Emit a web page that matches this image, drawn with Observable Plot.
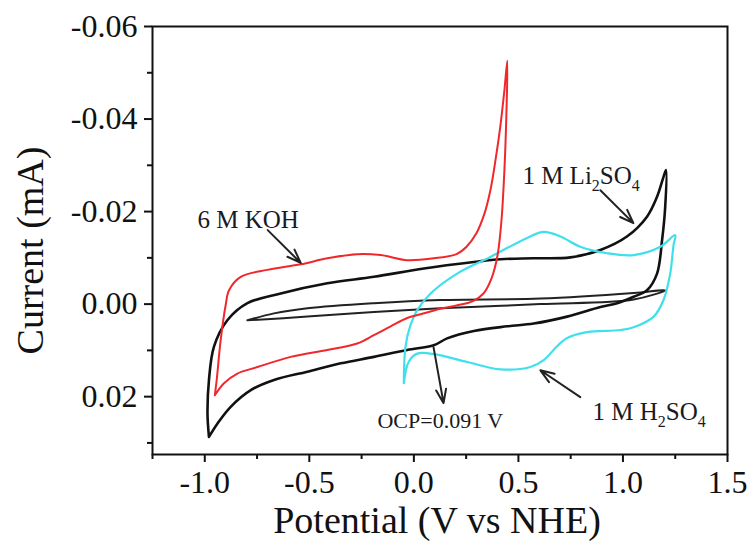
<!DOCTYPE html>
<html><head><meta charset="utf-8">
<script src="https://cdn.jsdelivr.net/npm/d3@7"></script>
<script src="https://cdn.jsdelivr.net/npm/@observablehq/plot@0.6"></script>
<style>
body{margin:0;background:#fff}
svg{font-family:"Liberation Serif",serif}
</style>
</head><body><div id="chart"></div>
<script>
// 6 M KOH (red)
const kohV = [-0.952,-0.943,-0.924,-0.900,-0.884,-0.828,-0.701,-0.541,-0.414,-0.271,-0.159,-0.032,0.095,0.204,0.252,0.299,0.338,0.366,0.390,0.414,0.433,0.447,0.443,0.433,0.419,0.400,0.371,0.333,0.280,0.204,0.127,0.032,-0.032,-0.111,-0.191,-0.271,-0.414,-0.589,-0.748,-0.844,-0.908,-0.952];
const kohI = [0.0197,0.0164,0.0078,0.0002,-0.0030,-0.0059,-0.0074,-0.0086,-0.0099,-0.0108,-0.0106,-0.0095,-0.0099,-0.0108,-0.0124,-0.0153,-0.0196,-0.0246,-0.0310,-0.0386,-0.0462,-0.0526,-0.0418,-0.0289,-0.0181,-0.0105,-0.0055,-0.0023,-0.0006,0.0003,0.0010,0.0022,0.0030,0.0048,0.0067,0.0085,0.0099,0.0114,0.0136,0.0150,0.0171,0.0197];
// 1 M Li2SO4 (black, outer loop)
const liV = [-0.980,-0.987,-0.980,-0.956,-0.892,-0.796,-0.637,-0.414,-0.191,0.048,0.287,0.414,0.573,0.749,0.892,1.019,1.115,1.163,1.194,1.206,1.202,1.187,1.163,1.115,1.051,0.972,0.892,0.733,0.573,0.446,0.287,0.159,0.095,-0.032,-0.191,-0.350,-0.509,-0.669,-0.780,-0.876,-0.939,-0.980];
const liI = [0.0287,0.0236,0.0164,0.0092,0.0035,-0.0002,-0.0023,-0.0045,-0.0059,-0.0077,-0.0091,-0.0097,-0.0099,-0.0101,-0.0117,-0.0146,-0.0189,-0.0232,-0.0275,-0.0290,-0.0210,-0.0138,-0.0066,-0.0030,-0.0016,-0.0002,0.0006,0.0027,0.0042,0.0048,0.0058,0.0074,0.0089,0.0099,0.0114,0.0128,0.0146,0.0164,0.0186,0.0222,0.0258,0.0287];
// narrow black loop
const thinV = [-0.796,-0.669,-0.509,-0.191,0.127,0.605,1.051,1.202,1.051,0.605,0.127,-0.191,-0.509,-0.796];
const thinI = [0.0035,0.0020,0.0009,-0.0002,-0.0009,-0.0012,-0.0024,-0.0030,-0.0010,0.0000,0.0009,0.0017,0.0027,0.0035];
// 1 M H2SO4 (cyan)
const h2V = [-0.048,-0.040,-0.016,0.016,0.080,0.207,0.366,0.542,0.621,0.701,0.796,0.924,1.051,1.179,1.250,1.242,1.226,1.194,1.147,1.051,0.988,0.821,0.730,0.685,0.621,0.557,0.414,0.255,0.095,0.016,-0.025,-0.048];
const h2I = [0.0171,0.0092,0.0045,0.0013,-0.0023,-0.0066,-0.0102,-0.0143,-0.0156,-0.0146,-0.0124,-0.0110,-0.0106,-0.0124,-0.0149,-0.0128,-0.0066,-0.0009,0.0027,0.0050,0.0056,0.0061,0.0074,0.0091,0.0121,0.0136,0.0141,0.0125,0.0108,0.0107,0.0125,0.0171];

// tick values
const xMajor = [-1.0,-0.5,0.0,0.5,1.0,1.5];
const xMinor = [-1.25,-0.75,-0.25,0.25,0.75,1.25];
const yMajor = [-0.06,-0.04,-0.02,0.00,0.02];
const yMinor = [-0.05,-0.03,-0.01,0.01,0.03];

// annotations
const annText = ["6 M KOH","1 M Li2SO4","1 M H2SO4"];
const annV = [-1.035,0.519,0.854];
const annI = [-0.0181,-0.0276,0.0234];
const ocpText = ["OCP=0.091 V"];
const ocpV = [-0.174];
const ocpI = [0.0252];
const arrV1 = [-0.699,0.892,0.094,0.796];
const arrI1 = [-0.0160,-0.0246,0.0093,0.0201];
const arrV2 = [-0.541,1.050,0.142,0.605];
const arrI2 = [-0.0089,-0.0175,0.0214,0.0143];

const rows = (vs, is) => vs.map((v, k) => ({v, i: is[k]}));
const ann = annText.map((t, k) => ({t, v: annV[k], i: annI[k]}));
const ocp = ocpText.map((t, k) => ({t, v: ocpV[k], i: ocpI[k]}));
const arrows = arrV1.map((v, k) => ({v1: v, i1: arrI1[k], v2: arrV2[k], i2: arrI2[k]}));

const plot = Plot.plot({
  width: 750, height: 544,
  marginLeft: 152, marginRight: 23, marginTop: 26, marginBottom: 90,
  style: {fontFamily: "Liberation Serif", background: "#fff", color: "#111"},
  x: {domain: [-1.25, 1.5]},
  y: {domain: [0.0325, -0.06]},
  marks: [
    Plot.line(rows(thinV, thinI), {x: "v", y: "i", stroke: "#222", strokeWidth: 2, curve: "catmull-rom"}),
    Plot.line(rows(liV, liI), {x: "v", y: "i", stroke: "#111", strokeWidth: 2.6, curve: "catmull-rom"}),
    Plot.line(rows(h2V, h2I), {x: "v", y: "i", stroke: "#3fe0ec", strokeWidth: 2.2, curve: "catmull-rom"}),
    Plot.line(rows(kohV, kohI), {x: "v", y: "i", stroke: "#f0282c", strokeWidth: 2, curve: "catmull-rom"}),
    Plot.arrow(arrows, {x1: "v1", y1: "i1", x2: "v2", y2: "i2", stroke: "#222", strokeWidth: 2, headLength: 11, headAngle: 40}),
    Plot.text(ann, {x: "v", y: "i", text: "t", textAnchor: "start", lineAnchor: "middle", fontSize: 25, fill: "#1a1a22"}),
    Plot.text(ocp, {x: "v", y: "i", text: "t", textAnchor: "start", lineAnchor: "middle", fontSize: 22, fill: "#1a1a22"}),
    Plot.frame({stroke: "#111", strokeWidth: 2}),
    Plot.axisX(xMajor, {tickSize: 8, tickPadding: 8, strokeWidth: 2, fontSize: 32, tickFormat: d => d.toFixed(1), label: null}),
    Plot.axisX(xMinor, {tickSize: 5, strokeWidth: 2, tickFormat: () => "", label: null}),
    Plot.axisY(yMajor, {tickSize: 8, tickPadding: 7, strokeWidth: 2, fontSize: 32, tickFormat: d => d.toFixed(2), label: null}),
    Plot.axisY(yMinor, {tickSize: 5, strokeWidth: 2, tickFormat: () => "", label: null}),
    Plot.text(["Potential (V vs NHE)"], {text: d => d, frameAnchor: "bottom", textAnchor: "middle", lineAnchor: "middle", dx: -3, dy: 66, fontSize: 38, fill: "#111"}),
    Plot.text(["Current (mA)"], {text: d => d, frameAnchor: "left", textAnchor: "middle", lineAnchor: "middle", rotate: -90, dx: -122, dy: 10, fontSize: 38, fill: "#111"})
  ]
});

// chemical formula subscripts
const NS = "http://www.w3.org/2000/svg";
const subs = {"1 M Li2SO4": [["1 M Li",0],["2",1],["SO",0],["4",1]], "1 M H2SO4": [["1 M H",0],["2",1],["SO",0],["4",1]]};
d3.select(plot).selectAll("text").each(function() {
  const parts = subs[this.textContent];
  if (!parts) return;
  this.textContent = "";
  let low = false;
  for (const [s, sub] of parts) {
    const ts = document.createElementNS(NS, "tspan");
    ts.textContent = s;
    if (sub && !low) { ts.setAttribute("dy", "7"); low = true; }
    else if (!sub && low) { ts.setAttribute("dy", "-7"); low = false; }
    if (sub) ts.setAttribute("font-size", "16");
    this.appendChild(ts);
  }
});

document.getElementById("chart").appendChild(plot);
</script>
</body></html>
